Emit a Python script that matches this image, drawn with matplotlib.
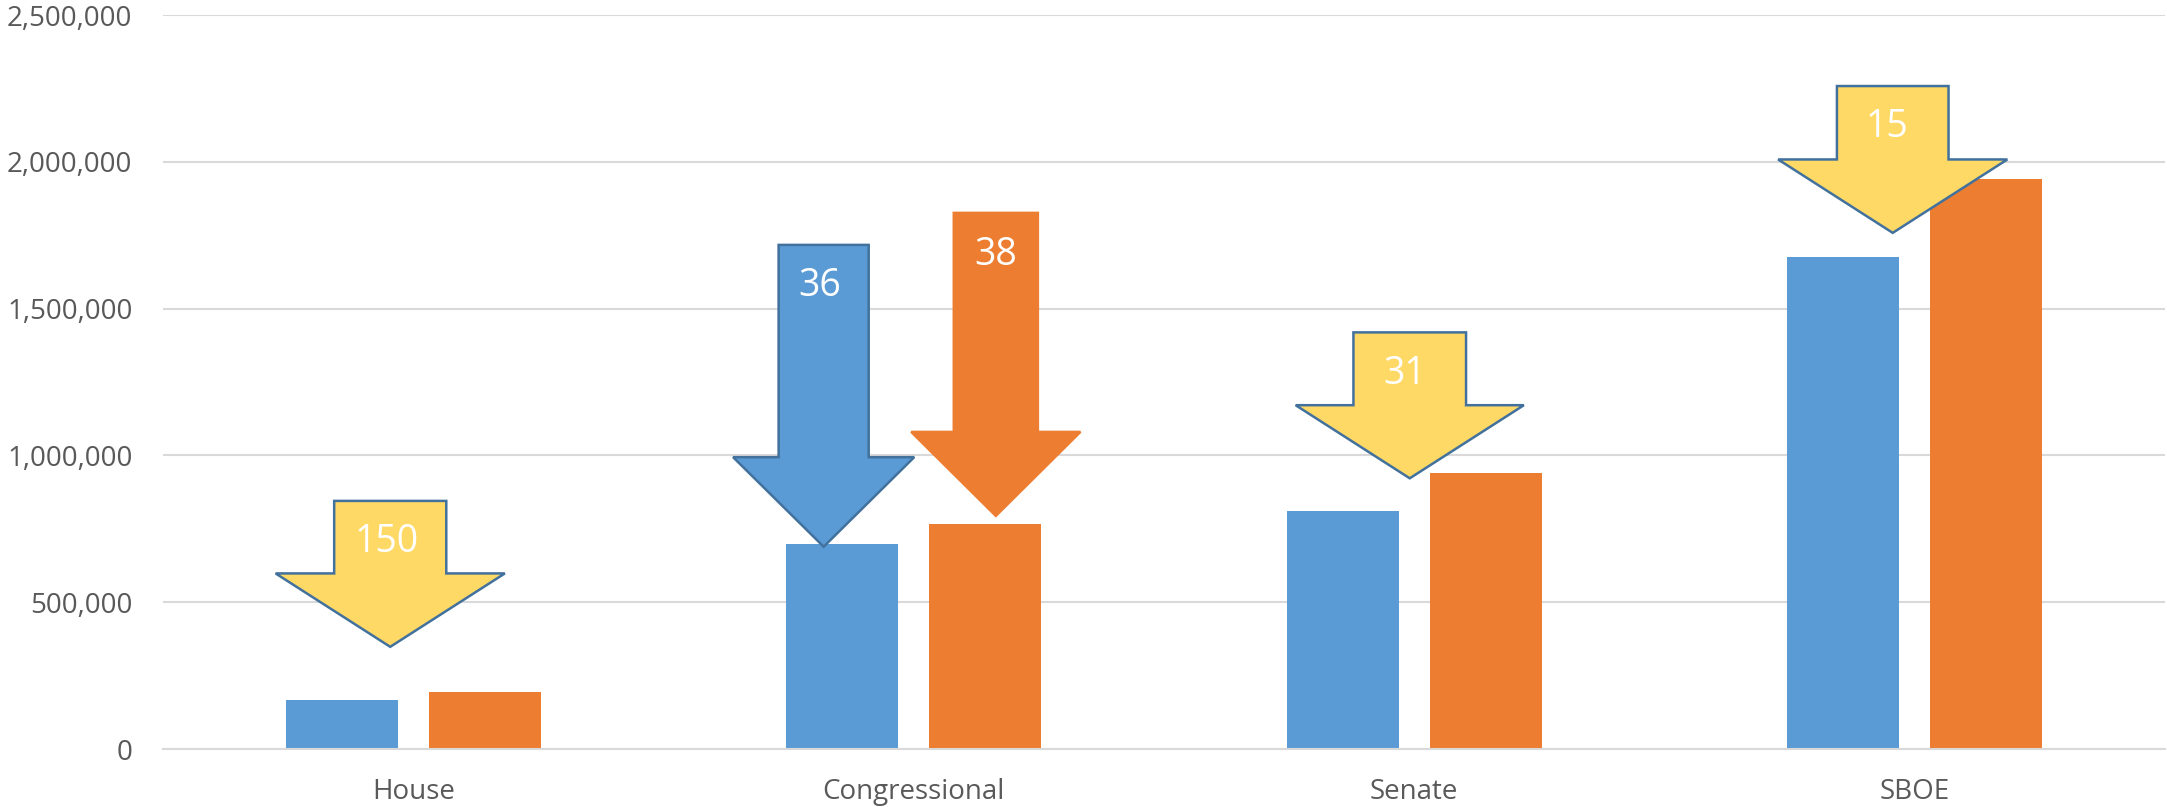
import matplotlib
matplotlib.use("Agg")
import matplotlib.pyplot as plt
from matplotlib.patches import Polygon
from matplotlib.ticker import FuncFormatter
import numpy as np

plt.rcParams['font.family'] = ['Open Sans', 'DejaVu Sans']

# ---- data ----
categories = ["House", "Congressional", "Senate", "SBOE"]
series_blue = [167000, 698000, 811000, 1675000]
series_orange = [194000, 766000, 939000, 1941000]
y_ticks = [0, 500000, 1000000, 1500000, 2000000, 2500000]

# arrow annotations: label, centre x (category units), tip, shoulder, top (values)
arrow_labels = ["150", "36", "38", "31", "15"]
arrow_x = [-0.046, 0.820, 1.164, 1.991, 2.956]
arrow_tip = [348000, 689000, 794000, 922000, 1758000]
arrow_shoulder = [598000, 994000, 1080000, 1171000, 2008000]
arrow_top = [845000, 1717000, 1826000, 1419000, 2258000]
arrow_text_x = [-0.054, 0.813, 1.164, 1.980, 2.945]
arrow_text_y = [704000, 1577000, 1682000, 1278000, 2118000]

# styles
BLUE = "#5B9BD5"
ORANGE = "#ED7D31"
YELLOW = "#FFD966"
EDGE = "#41719C"
GRID = "#D9D9D9"
TEXT = "#595959"
arrow_shaft_hw = [0.112, 0.090, 0.084, 0.1125, 0.1115]
arrow_head_hw = [0.229, 0.181, 0.169, 0.228, 0.229]
arrow_fill = [YELLOW, BLUE, ORANGE, YELLOW, YELLOW]
arrow_edge = [EDGE, EDGE, ORANGE, EDGE, EDGE]

fig = plt.figure(figsize=(21.67, 8.07), dpi=100)
ax = fig.add_axes([163 / 2167, (807 - 749) / 807, (2165 - 163) / 2167, (749 - 15) / 807])

x = np.arange(len(categories))
w = 0.224
off = 0.143
ax.bar(x - off, series_blue, width=w, color=BLUE, zorder=2)
ax.bar(x + off, series_orange, width=w, color=ORANGE, zorder=2)

for i in range(len(arrow_labels)):
    cx = arrow_x[i]
    sh = arrow_shaft_hw[i]
    hh = arrow_head_hw[i]
    pts = [
        (cx - sh, arrow_top[i]),
        (cx + sh, arrow_top[i]),
        (cx + sh, arrow_shoulder[i]),
        (cx + hh, arrow_shoulder[i]),
        (cx, arrow_tip[i]),
        (cx - hh, arrow_shoulder[i]),
        (cx - sh, arrow_shoulder[i]),
    ]
    poly = Polygon(pts, closed=True, facecolor=arrow_fill[i], edgecolor=arrow_edge[i],
                   linewidth=1.8, joinstyle='miter', zorder=4, clip_on=False)
    ax.add_patch(poly)
    ax.text(arrow_text_x[i], arrow_text_y[i], arrow_labels[i], color="white",
            fontsize=27, ha="center", va="center", zorder=5)

ax.set_xlim(-0.5, len(categories) - 0.5)
ax.set_ylim(0, 2500000)
ax.set_yticks(y_ticks)
ax.yaxis.set_major_formatter(FuncFormatter(lambda v, p: f"{int(v):,}"))
ax.set_xticks(x)
ax.set_xticklabels(categories)
ax.tick_params(axis='both', length=0, labelsize=20, labelcolor=TEXT)
ax.tick_params(axis='y', pad=22)
ax.tick_params(axis='x', pad=21)
ax.grid(axis='y', color=GRID, linewidth=1.5, zorder=0)
ax.set_axisbelow(True)
for s in ['top', 'right', 'left']:
    ax.spines[s].set_visible(False)
ax.spines['bottom'].set_color(GRID)
ax.spines['bottom'].set_linewidth(1.5)

fig.savefig("out.png", dpi=100)
